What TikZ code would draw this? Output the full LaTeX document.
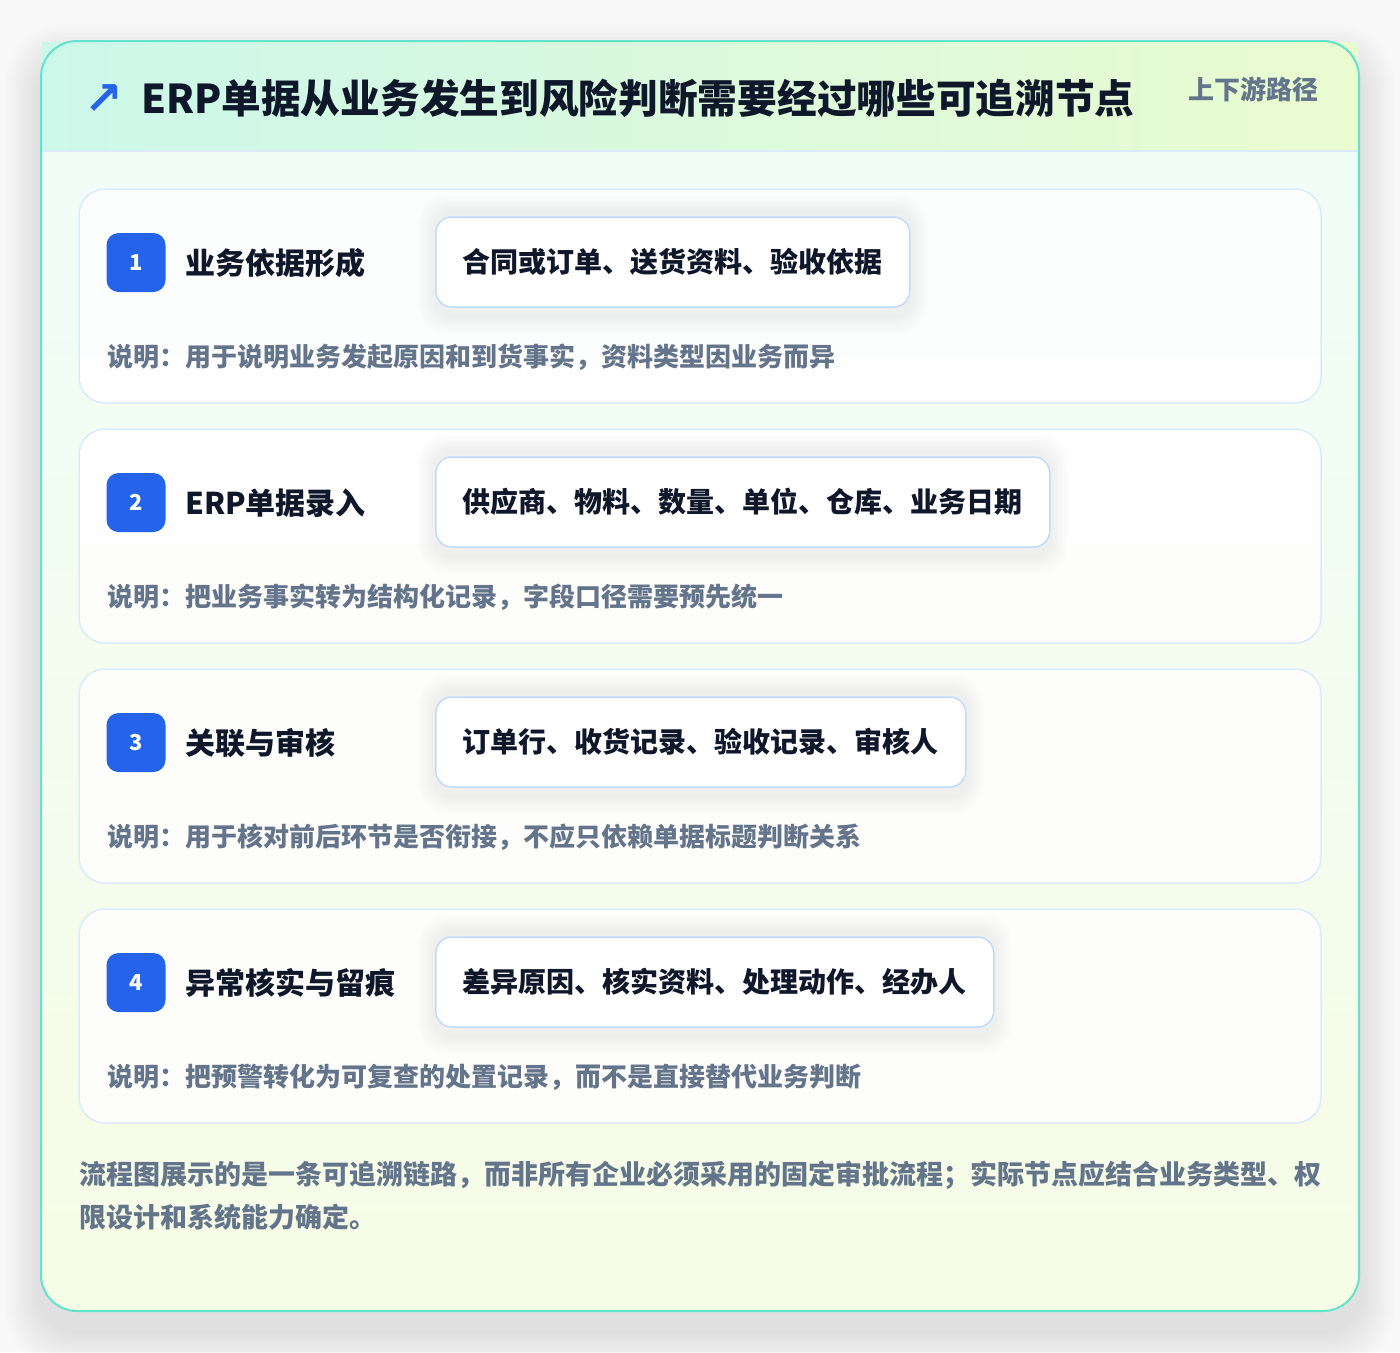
\documentclass[tikz,border=0pt]{standalone}
\usepackage{fontspec}
\setmainfont{Noto Sans CJK SC}
\newfontfamily\symfont{DejaVu Sans}
\definecolor{pagebg}{HTML}{F8F8F9}
\definecolor{cardline}{HTML}{62E3CC}
\definecolor{headL}{HTML}{CCF8EA}
\definecolor{headR}{HTML}{EAFBD0}
\definecolor{bodyT}{HTML}{F0FDF9}
\definecolor{bodyB}{HTML}{F6FDE6}
\definecolor{sepline}{HTML}{DBEAFE}
\definecolor{stepline}{HTML}{DBEAFE}
\definecolor{pillline}{HTML}{BFDBFE}
\definecolor{pillshadow}{HTML}{64748B}
\definecolor{badgeblue}{HTML}{2563EB}
\definecolor{ink}{HTML}{0F172A}
\definecolor{muted}{HTML}{64748B}
\pgfdeclarelayer{bg}
\pgfdeclarelayer{cards}
\pgfdeclarelayer{pshadow}
\pgfsetlayers{bg,cards,pshadow,main}
\tikzset{
  txt/.style={inner sep=0pt, anchor=west},
  titletxt/.style={txt, font=\fontsize{39.7}{40}\selectfont\bfseries, text=ink},
  tagtxt/.style={txt, font=\fontsize{26}{26}\selectfont\bfseries, text=muted},
  labeltxt/.style={txt, font=\fontsize{30}{30}\selectfont\bfseries, text=ink},
  desctxt/.style={txt, font=\fontsize{26}{26}\selectfont\bfseries, text=muted},
  foottxt/.style={txt, font=\fontsize{27}{27}\selectfont\bfseries, text=muted},
  stepcard/.style={draw=stepline, line width=1.5pt, fill=white, fill opacity=0.85, rounded corners=26pt},
  badge/.style={fill=badgeblue, rounded corners=12pt, minimum size=59pt, inner sep=0pt, text=white, font=\fontsize{22}{22}\selectfont\bfseries},
  pill/.style={draw=pillline, line width=1.5pt, fill=white, rounded corners=16pt, minimum height=90pt, inner xsep=27pt, inner ysep=0pt, anchor=west, text=ink, font=\fontsize{28}{28}\selectfont\bfseries},
}
\begin{document}
\begin{tikzpicture}[x=1pt,y=-1pt]
\useasboundingbox (0,0) rectangle (1400,1352);
\begin{pgfonlayer}{bg}
\fill[pagebg] (0,0) rectangle (1400,1352);
% outer shadow
\foreach \k in {1,...,12}{
  \fill[black, opacity=0.008, rounded corners=36+2*\k]
    (41-3*\k, 41-3*\k+20) rectangle (1359+3*\k, 1311+3*\k+20);
}
% body
\fill[top color=bodyT, bottom color=bodyB, rounded corners=36pt] (41,41) rectangle (1359,1311);
% header band
\shade[left color=headL, right color=headR] (42,42) rectangle (1358,151);
\draw[sepline, line width=1.5pt] (42,151) -- (1358,151);
% outer border
\draw[cardline, line width=2pt, rounded corners=36pt] (41,41) rectangle (1359,1311);
\end{pgfonlayer}
% header texts
\node[txt, font=\symfont\bfseries\fontsize{46}{46}\selectfont, text=badgeblue] (icon) at (84,100) {↗};
\node[titletxt] (title) at (141,98) {ERP单据从业务发生到风险判断需要经过哪些可追溯节点};
\node[tagtxt] (tag) at (1188,89) {上下游路径};
% steps
\foreach \i/\lab/\pill/\desc in {
  1/业务依据形成/合同或订单、送货资料、验收依据/说明：用于说明业务发起原因和到货事实，资料类型因业务而异,
  2/ERP单据录入/供应商、物料、数量、单位、仓库、业务日期/说明：把业务事实转为结构化记录，字段口径需要预先统一,
  3/关联与审核/订单行、收货记录、验收记录、审核人/说明：用于核对前后环节是否衔接，不应只依赖单据标题判断关系,
  4/异常核实与留痕/差异原因、核实资料、处理动作、经办人/说明：把预警转化为可复查的处置记录，而不是直接替代业务判断}{
  \pgfmathsetmacro{\dy}{240*(\i-1)}
  \begin{pgfonlayer}{cards}
    \draw[stepcard] (79,189+\dy) rectangle (1321,403+\dy);
  \end{pgfonlayer}
  \node[badge] (badge\i) at (136,262.5+\dy) {\i};
  \node[labeltxt] (label\i) at (185,263+\dy) {\lab};
  \node[pill] (pill\i) at (435,262+\dy) {\pill};
  \begin{pgfonlayer}{pshadow}
    \foreach \s in {1,...,7}{
      \fill[pillshadow, opacity=0.012, rounded corners=16+\s*2]
        ([xshift=-\s*2.5pt, yshift=\s*2.5pt+4pt]pill\i.north west) rectangle
        ([xshift=\s*2.5pt, yshift=-\s*2.5pt-8pt]pill\i.south east);
    }
  \end{pgfonlayer}
  \node[desctxt] (desc\i) at (107,357+\dy) {\desc};
}
% footer
\node[foottxt] (foot1) at (79,1175) {流程图展示的是一条可追溯链路，而非所有企业必须采用的固定审批流程；实际节点应结合业务类型、权};
\node[foottxt] (foot2) at (79,1217) {限设计和系统能力确定。};
\end{tikzpicture}
\end{document}
